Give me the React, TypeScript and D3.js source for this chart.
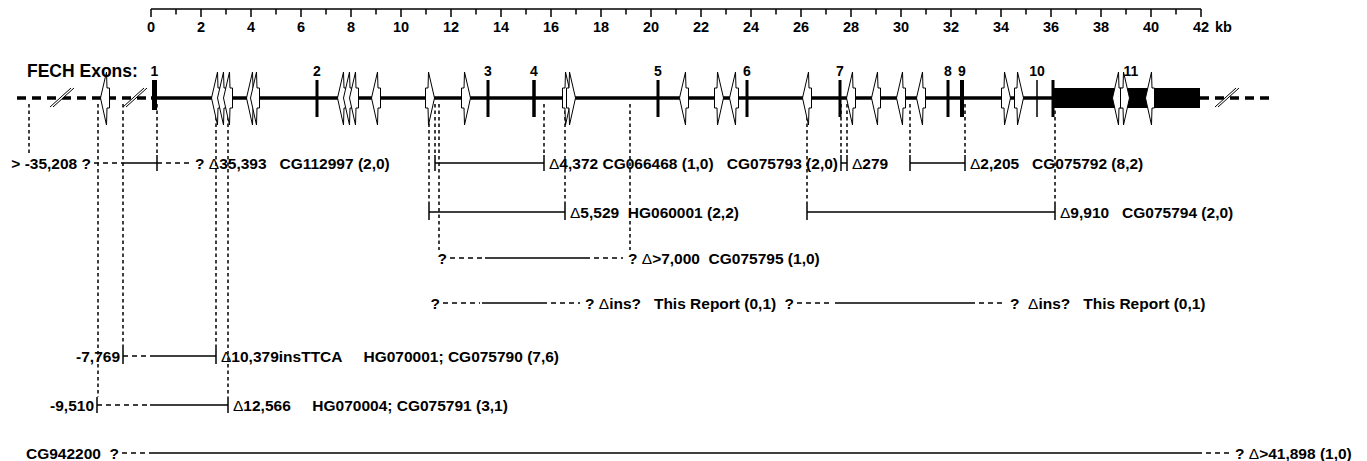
import React from 'react';
import * as d3 from 'd3';

// scale bar (kb)
const majorTicks = [0, 2, 4, 6, 8, 10, 12, 14, 16, 18, 20, 22, 24, 26, 28, 30, 32, 34, 36, 38, 40, 42];
const minorTicks = [1, 3, 5, 7, 9, 11, 13, 15, 17, 19, 21, 23, 25, 27, 29, 31, 33, 35, 37, 39, 41];

// FECH exons 1-10 (centre, length in kb), exon 11 drawn as a box
const exonNames = ['1', '2', '3', '4', '5', '6', '7', '8', '9', '10'];
const exonKb = [0.14, 6.64, 13.48, 15.32, 20.28, 23.84, 27.56, 31.88, 32.44, 35.44];
const exonLenKb = [0.2, 0.12, 0.12, 0.14, 0.12, 0.12, 0.12, 0.12, 0.16, 0.06];
const lastExonName = '11';
const lastExonKb = [36.04, 41.96];
const lastExonLabelKb = 39.2;

// Alu repeats: position (kb) and orientation
const aluKb = [-1.84, 2.6, 2.84, 3.08, 4.0, 4.16, 7.64, 7.88, 8.12, 9.0, 11.16, 12.6, 16.64, 16.8,
  21.32, 22.72, 23.32, 26.24, 28.0, 29.0, 30.0, 30.8, 34.2, 34.72, 38.64, 38.96, 39.96];
const aluDir = ['L', 'L', 'L', 'L', 'L', 'L', 'L', 'L', 'L', 'L', 'R', 'R', 'R', 'R',
  'L', 'R', 'L', 'L', 'L', 'L', 'L', 'L', 'R', 'R', 'L', 'R', 'L'];

// gene backbone: dashed start, solid start, solid end, dashed end; "//" breaks
const geneKb = [-5.36, 0, 41.96, 44.92];
const breakKb = [-3.6, -0.68, 43.0];

// deletions: [from, to, dashed] segments in kb, end ticks, flanking labels
const deletions = [
  { row: 0, segs: [[-2.28, -1.14, true], [-1.14, 0.24, false], [0.24, 1.56, true]], ticks: [0.24], left: '> -35,208 ?', right: '? Δ35,393   CG112997 (2,0)' },
  { row: 0, segs: [[11.36, 15.72, false]], ticks: [11.36, 15.72], left: '', right: 'Δ4,372 CG066468 (1,0)' },
  { row: 0, segs: [[27.6, 27.84, false]], ticks: [27.6, 27.84], left: 'CG075793 (2,0)', right: 'Δ279' },
  { row: 0, segs: [[30.36, 32.56, false]], ticks: [30.36, 32.56], left: '', right: 'Δ2,205   CG075792 (8,2)' },
  { row: 1, segs: [[11.12, 16.56, false]], ticks: [11.12, 16.56], left: '', right: 'Δ5,529  HG060001 (2,2)' },
  { row: 1, segs: [[26.24, 36.16, false]], ticks: [26.24, 36.16], left: '', right: 'Δ9,910   CG075794 (2,0)' },
  { row: 2, segs: [[11.96, 13.36, true], [13.36, 17.36, false], [17.36, 18.88, true]], ticks: [], left: '?', right: '? Δ>7,000  CG075795 (1,0)' },
  { row: 3, segs: [[11.68, 13.16, true], [13.24, 15.64, false], [15.64, 17.16, true]], ticks: [], left: '?', right: '? Δins?   This Report (0,1)' },
  { row: 3, segs: [[25.84, 27.24, true], [27.36, 32.76, false], [32.76, 34.16, true]], ticks: [], left: '?', right: '?  Δins?   This Report (0,1)' },
  { row: 4, segs: [[-1.12, -0.04, true], [-0.04, 2.6, false]], ticks: [-1.12, 2.6], left: '-7,769', right: 'Δ10,379insTTCA     HG070001; CG075790 (7,6)' },
  { row: 5, segs: [[-2.16, -0.04, true], [-0.04, 3.08, false]], ticks: [-2.16, 3.08], left: '-9,510', right: 'Δ12,566     HG070004; CG075791 (3,1)' },
  { row: 6, segs: [[-1.16, -0.04, true], [-0.04, 41.84, false], [41.84, 43.16, true]], ticks: [], left: 'CG942200  ?', right: '? Δ>41,898 (1,0)' },
];

// dotted guides from breakpoints on the gene down to a row
const guideKb = [-4.88, -2.12, -1.12, 0.24, 2.6, 3.08, 11.12, 11.36, 11.52, 15.72, 16.56, 19.16, 26.24, 27.6, 27.84, 30.36, 32.56, 36.16];
const guideRow = [0, 5, 4, 0, 4, 5, 1, 0, 2, 0, 1, 2, 1, 0, 0, 0, 0, 1];

const W = 1367;
const H = 461;
const GENE_Y = 98;

const Label = ({ x, y, anchor, text, size }) => {
  const parts = text.split('Δ');
  return (
    <text x={x} y={y} textAnchor={anchor} fontSize={size} xmlSpace="preserve" style={{ whiteSpace: 'pre' }}>
      {parts.map((p, i) => (
        <React.Fragment key={i}>
          {i > 0 && <tspan fontWeight="normal">Δ</tspan>}
          {p}
        </React.Fragment>
      ))}
    </text>
  );
};

function aluPath(c, dir) {
  const s = dir === 'R' ? 1 : -1;
  const pts = [
    [c - 4.5 * s, 88], [c - 2 * s, 88], [c - 1.5 * s, 72], [c + 4.5 * s, GENE_Y],
    [c - 1.5 * s, 125], [c - 2 * s, 108], [c - 4.5 * s, 108],
  ];
  return d3.line()(pts) + 'Z';
}

export default function App() {
  const x = d3.scaleLinear().domain([0, 42]).range([151, 1201]);
  const rowY = d3.scaleLinear().domain([0, 1, 2, 3, 4, 5, 6]).range([163, 212, 258, 303, 356, 405, 453]);

  return (
    <svg width={W} height={H} style={{ position: 'absolute', left: 0, top: 0, background: '#fff' }}
      fontFamily="'Liberation Sans', Arial, Helvetica, sans-serif" fontWeight="bold">
      {/* guides */}
      {guideKb.map((k, i) => (
        <line key={'g' + i} x1={x(k)} x2={x(k)} y1={104} y2={rowY(guideRow[i]) - 8}
          stroke="#000" strokeWidth={1.5} strokeDasharray="3.5,3" />
      ))}

      {/* gene backbone */}
      <line x1={x(geneKb[0])} x2={x(geneKb[1])} y1={GENE_Y} y2={GENE_Y} stroke="#000" strokeWidth={3.5} strokeDasharray="9,6" />
      <line x1={x(geneKb[1])} x2={x(geneKb[2])} y1={GENE_Y} y2={GENE_Y} stroke="#000" strokeWidth={3.5} />
      <line x1={x(geneKb[2])} x2={x(geneKb[3])} y1={GENE_Y} y2={GENE_Y} stroke="#000" strokeWidth={3.5} strokeDasharray="9,6" />
      {breakKb.map((k, i) => {
        const c = x(k);
        return (
          <g key={'b' + i}>
            <polygon points={`${c - 11},107 ${c + 10},88 ${c + 13},88 ${c - 8},107`} fill="#fff" />
            <line x1={c - 11} y1={107} x2={c + 10} y2={88} stroke="#000" strokeWidth={1} />
            <line x1={c - 8} y1={107} x2={c + 13} y2={88} stroke="#000" strokeWidth={1} />
          </g>
        );
      })}

      {/* exons */}
      {exonKb.map((k, i) => (
        <rect key={'e' + i} x={x(k - exonLenKb[i] / 2)} width={x(exonLenKb[i]) - x(0)}
          y={80} height={i === 0 ? 30 : 37} fill="#000" />
      ))}
      <rect x={x(lastExonKb[0])} width={x(lastExonKb[1]) - x(lastExonKb[0])} y={88} height={20} fill="#000" />
      <rect x={x(lastExonKb[0]) - 0.5} width={3} y={80} height={37} fill="#000" />

      {/* Alu repeats */}
      {aluKb.map((k, i) => (
        <path key={'a' + i} d={aluPath(x(k), aluDir[i])} fill="#fff" stroke="#000" strokeWidth={1} strokeLinejoin="miter" />
      ))}

      {/* exon labels */}
      <text x={27} y={77} fontSize={17.5}>FECH Exons:</text>
      {exonKb.map((k, i) => (
        <text key={'el' + i} x={x(k)} y={76} fontSize={14} textAnchor="middle">{exonNames[i]}</text>
      ))}
      <text x={x(lastExonLabelKb)} y={76} fontSize={14} textAnchor="middle">{lastExonName}</text>

      {/* scale bar */}
      <line x1={x(0)} x2={x(42)} y1={9} y2={9} stroke="#000" strokeWidth={1.5} />
      {majorTicks.map(t => (
        <g key={'t' + t}>
          <line x1={x(t)} x2={x(t)} y1={9} y2={17} stroke="#000" strokeWidth={1.5} />
          <text x={x(t)} y={32} fontSize={14.5} textAnchor="middle">{t}</text>
        </g>
      ))}
      {minorTicks.map(t => (
        <line key={'m' + t} x1={x(t)} x2={x(t)} y1={9} y2={14.5} stroke="#000" strokeWidth={1.5} />
      ))}
      <text x={x(42) + 14} y={32} fontSize={14.5}>kb</text>

      {/* deletions */}
      {deletions.map((d, i) => {
        const y = rowY(d.row);
        const first = d.segs[0][0];
        const last = d.segs[d.segs.length - 1][1];
        return (
          <g key={'d' + i}>
            {d.segs.map(([a, b, dashed], j) => (
              <line key={j} x1={x(a)} x2={x(b)} y1={y} y2={y} stroke="#000" strokeWidth={1.5}
                strokeDasharray={dashed ? '5,4' : null} />
            ))}
            {d.ticks.map((t, j) => (
              <line key={'k' + j} x1={x(t)} x2={x(t)} y1={y - 8} y2={y + 8} stroke="#000" strokeWidth={1.5} />
            ))}
            {d.left && <Label x={x(first) - 3} y={y + 6} anchor="end" text={d.left} size={15.5} />}
            {d.right && <Label x={x(last) + 5} y={y + 6} anchor="start" text={d.right} size={15.5} />}
          </g>
        );
      })}
    </svg>
  );
}
